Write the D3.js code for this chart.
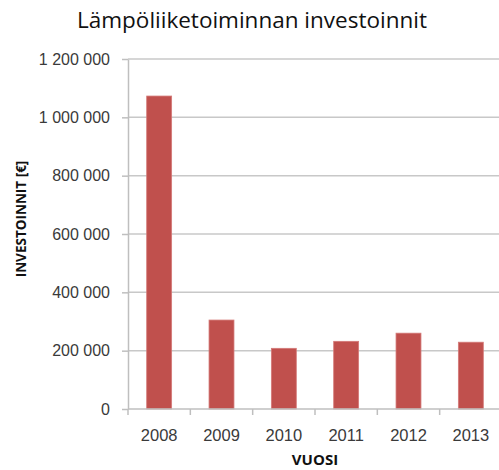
<!DOCTYPE html>
<html>
<head>
<meta charset="utf-8">
<script src="https://cdn.jsdelivr.net/npm/d3@7"></script>
<style>
  body { margin: 0; background: #fff; }
  svg { display: block; font-family: "Open Sans", sans-serif; }
  .tick text { fill: #3a3a3a; }
</style>
</head>
<body>
<svg id="chart" width="499" height="470"></svg>
<script>
// chart data
const years = ['2008', '2009', '2010', '2011', '2012', '2013'];
const investments = [1073000, 305000, 208000, 232000, 260000, 229000];
const yTicks = [0, 200000, 400000, 600000, 800000, 1000000, 1200000];

const svg = d3.select('#chart');
const dims = { left: 128, right: 502, top: 59, bottom: 409 };

const x = d3.scaleBand()
  .domain(years)
  .range([dims.left, dims.right])
  .paddingInner(0.6)
  .paddingOuter(0.3);

const y = d3.scaleLinear()
  .domain([0, 1200000])
  .range([dims.bottom, dims.top]);

// numbers with a space as thousands separator
const fmt = d => d3.format(',')(d).replace(/,/g, ' ');

// title
svg.append('text')
  .attr('x', 252)
  .attr('y', 28)
  .attr('text-anchor', 'middle')
  .style('font-size', '22.5px')
  .style('fill', '#111')
  .text('Lämpöliiketoiminnan investoinnit');

// horizontal gridlines
svg.append('g')
  .selectAll('line')
  .data(yTicks.slice(1))
  .join('line')
  .attr('x1', dims.left)
  .attr('x2', 499)
  .attr('y1', d => y(d))
  .attr('y2', d => y(d))
  .attr('stroke', '#c8c8c8')
  .attr('stroke-width', 1.5);

// bars
svg.append('g')
  .selectAll('rect')
  .data(years)
  .join('rect')
  .attr('x', d => x(d))
  .attr('y', (d, i) => y(investments[i]))
  .attr('width', x.bandwidth())
  .attr('height', (d, i) => y(0) - y(investments[i]))
  .attr('fill', '#c0504d')
  .attr('stroke', '#d47a78')
  .attr('stroke-width', 0.8);

// y axis
const yAxis = d3.axisLeft(y)
  .tickValues(yTicks)
  .tickFormat(fmt)
  .tickSizeInner(6)
  .tickSizeOuter(0)
  .tickPadding(12);

const yAxisGroup = svg.append('g')
  .attr('transform', `translate(${dims.left},0)`)
  .call(yAxis);
yAxisGroup.select('.domain').attr('stroke', '#bfbfbf').attr('stroke-width', 1.5);
yAxisGroup.selectAll('.tick line').attr('stroke', '#bfbfbf').attr('stroke-width', 1.5);
yAxisGroup.selectAll('text').style('font-size', '16px');

// x axis (labels only, ticks drawn at the band edges)
const xAxis = d3.axisBottom(x)
  .tickSize(0)
  .tickPadding(20);

const xAxisGroup = svg.append('g')
  .attr('transform', `translate(0,${dims.bottom})`)
  .call(xAxis);
xAxisGroup.select('.domain').remove();
xAxisGroup.selectAll('text').style('font-size', '16.5px');

const edges = years.map(d => x(d) - x.step() * x.paddingInner() / 2);
edges[0] = dims.left;

svg.append('line')
  .attr('x1', dims.left)
  .attr('x2', 499)
  .attr('y1', dims.bottom)
  .attr('y2', dims.bottom)
  .attr('stroke', '#bfbfbf')
  .attr('stroke-width', 1.5);

svg.append('g')
  .selectAll('line')
  .data(edges)
  .join('line')
  .attr('x1', d => d)
  .attr('x2', d => d)
  .attr('y1', dims.bottom)
  .attr('y2', dims.bottom + 6)
  .attr('stroke', '#bfbfbf')
  .attr('stroke-width', 1.5);

// axis titles
svg.append('text')
  .attr('transform', 'rotate(-90)')
  .attr('x', -219)
  .attr('y', 26)
  .attr('text-anchor', 'middle')
  .style('font-size', '13.5px')
  .style('font-weight', 'bold')
  .style('fill', '#111')
  .text('INVESTOINNIT [€]');

svg.append('text')
  .attr('x', (dims.left + dims.right) / 2)
  .attr('y', 465)
  .attr('text-anchor', 'middle')
  .style('font-size', '15px')
  .style('font-weight', 'bold')
  .style('fill', '#111')
  .text('VUOSI');
</script>
</body>
</html>
